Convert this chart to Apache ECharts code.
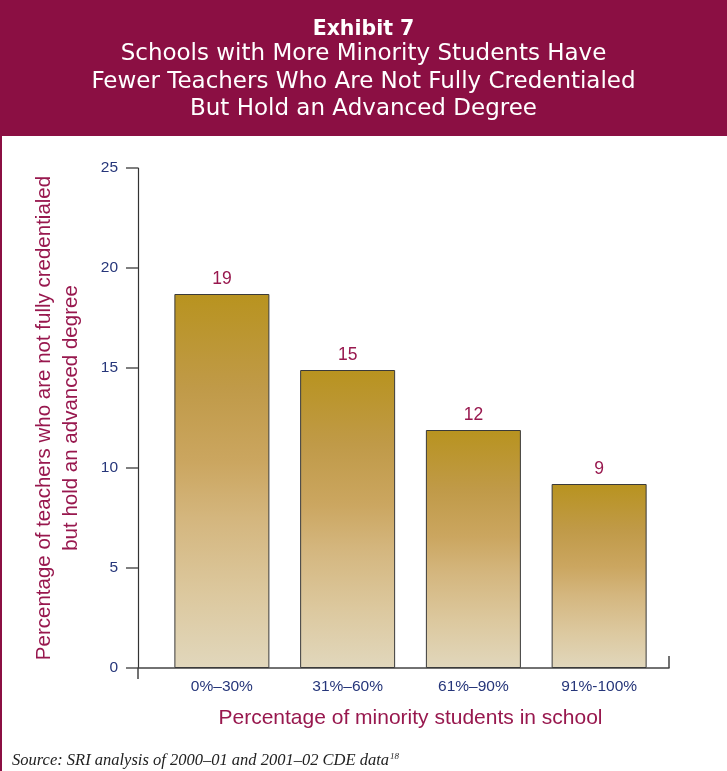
<!DOCTYPE html>
<html>
<head>
<meta charset="utf-8">
<script src="https://cdn.jsdelivr.net/npm/echarts@6/dist/echarts.min.js"></script>
<style>
html,body{margin:0;padding:0;background:#fff;}
#chart{width:727px;height:771px;}
</style>
</head>
<body>
<div id="chart"></div>
<script>
// ---- data ----
const categories = ['0%–30%', '31%–60%', '61%–90%', '91%-100%'];
const values = [18.7, 14.9, 11.9, 9.2];
const yTicks = { min: 0, max: 25, interval: 5 };
const titleLines = ['Schools with More Minority Students Have', 'Fewer Teachers Who Are Not Fully Credentialed', 'But Hold an Advanced Degree'];
const exhibitLabel = 'Exhibit 7';
const yName = 'Percentage of teachers who are not fully credentialed\nbut hold an advanced degree';
const xName = 'Percentage of minority students in school';
const sourceText = 'Source: SRI analysis of 2000–01 and 2001–02 CDE data';
const sourceNote = '18';

// ---- styles ----
const MAROON = '#8B0F43';
const TEXT_MAROON = '#98184E';
const NAVY = '#26367A';
const TITLE_FONT = 'DejaVu Sans';
const SANS = 'Liberation Sans';

const chart = echarts.init(document.getElementById('chart'), null, { renderer: 'canvas' });

const gridTop = 168, gridBottom = 103;

const titles = [
  {
    text: exhibitLabel, left: 'center', top: 19, padding: 0,
    textStyle: { color: '#fff', fontFamily: TITLE_FONT, fontWeight: 'bold', fontSize: 20.5 }
  }
].concat(titleLines.map((t, i) => ({
  text: t, left: 'center', top: 43 + i * 27.5, padding: 0,
  textStyle: { color: '#fff', fontFamily: TITLE_FONT, fontWeight: 'normal', fontSize: 23 }
}))).concat([{
  text: sourceText + '{sup|' + sourceNote + '}',
  left: 12, top: 752, padding: 0,
  textStyle: {
    color: '#222', fontFamily: 'Liberation Serif', fontStyle: 'italic', fontWeight: 'normal', fontSize: 16.5,
    rich: { sup: { fontFamily: 'Liberation Serif', fontStyle: 'italic', fontSize: 9, verticalAlign: 'top', padding: [0, 0, 9, 1], color: '#222' } }
  }
}]);

const option = {
  backgroundColor: '#fff',
  animation: false,
  graphic: [
    { type: 'rect', left: 0, top: 0, shape: { width: 727, height: 136 }, style: { fill: MAROON }, z: 0 },
    { type: 'rect', left: 0, top: 136, shape: { width: 2, height: 635 }, style: { fill: MAROON }, z: 0 }
  ],
  title: titles,
  grid: [
    { left: 138, right: 58, top: gridTop, bottom: gridBottom },
    { left: 159, right: 65, top: gridTop, bottom: gridBottom }
  ],
  xAxis: [
    {
      gridIndex: 0, type: 'value', min: 0, max: 1, interval: 1,
      axisLine: { show: true, lineStyle: { color: '#444', width: 1.5 } },
      axisTick: { show: true, length: 11, customValues: [0], lineStyle: { color: '#444', width: 1.5 } },
      axisLabel: { show: false }, splitLine: { show: false }
    },
    {
      gridIndex: 0, type: 'value', min: 0, max: 1, interval: 1, position: 'bottom',
      axisLine: { show: false },
      axisTick: { show: true, inside: true, length: 12, customValues: [1], lineStyle: { color: '#444', width: 1.5 } },
      axisLabel: { show: false }, splitLine: { show: false }
    },
    {
      gridIndex: 1, type: 'category', data: categories,
      axisLine: { show: false }, axisTick: { show: false },
      axisLabel: { color: NAVY, fontFamily: SANS, fontSize: 15.5, margin: 11 },
      name: xName, nameLocation: 'middle', nameGap: 40,
      nameTextStyle: { color: TEXT_MAROON, fontFamily: SANS, fontSize: 21 }
    }
  ],
  yAxis: [
    {
      gridIndex: 0, type: 'value', min: yTicks.min, max: yTicks.max, interval: yTicks.interval,
      axisLine: { show: true, lineStyle: { color: '#333', width: 1.2 } },
      axisTick: { show: true, length: 12, lineStyle: { color: '#555', width: 1.5 } },
      axisLabel: { color: NAVY, fontFamily: SANS, fontSize: 15.5, margin: 20 },
      splitLine: { show: false },
      name: yName, nameLocation: 'middle', nameGap: 53, nameRotate: 90,
      nameTextStyle: { color: TEXT_MAROON, fontFamily: SANS, fontSize: 20.5, lineHeight: 27, align: 'center' }
    },
    {
      gridIndex: 1, type: 'value', min: yTicks.min, max: yTicks.max, interval: yTicks.interval, show: false
    }
  ],
  series: [
    {
      type: 'bar', xAxisIndex: 2, yAxisIndex: 1, data: values, barWidth: 95,
      itemStyle: {
        borderColor: '#3a3a3a', borderWidth: 1,
        color: new echarts.graphic.LinearGradient(0, 0, 0, 1, [
          { offset: 0, color: '#B8931F' },
          { offset: 0.25, color: '#C09A48' },
          { offset: 0.45, color: '#CBA660' },
          { offset: 0.6, color: '#D4B67E' },
          { offset: 0.8, color: '#DCC89E' },
          { offset: 1, color: '#E1D7BC' }
        ])
      },
      label: {
        show: true, position: 'top', distance: 6,
        color: TEXT_MAROON, fontFamily: SANS, fontSize: 17.5,
        formatter: p => String(Math.round(p.value))
      }
    }
  ]
};
chart.setOption(option);
</script>
</body>
</html>
